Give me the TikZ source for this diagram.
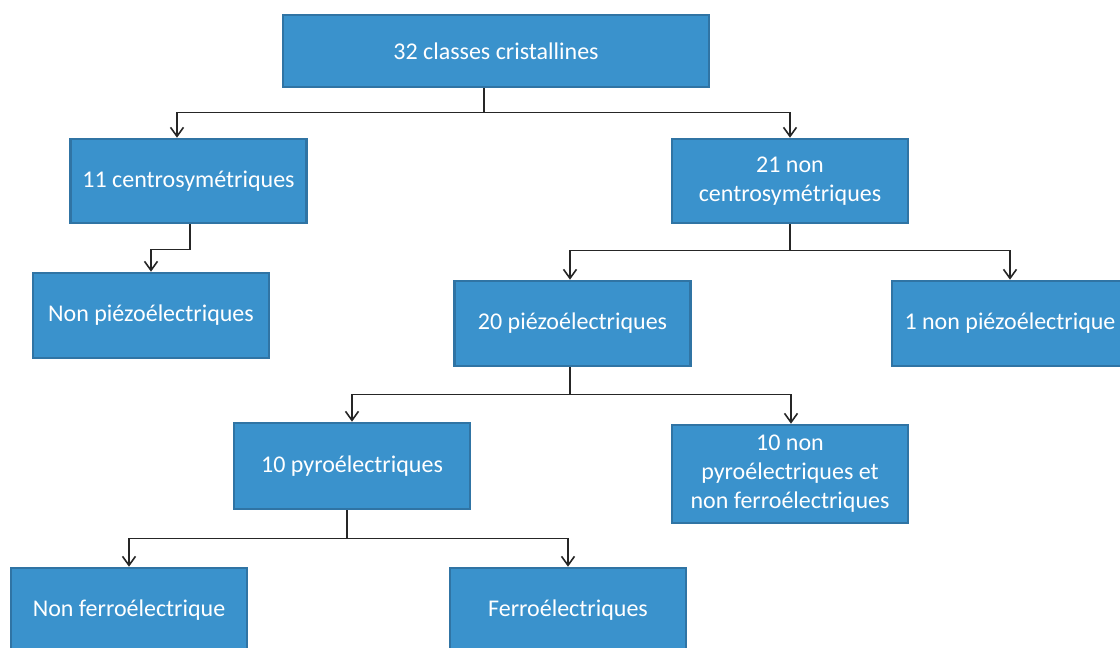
\documentclass[tikz,border=0pt]{standalone}
\usepackage{fontspec}
\setmainfont{Carlito}
\usepackage{xcolor}
\usetikzlibrary{arrows.meta, positioning}

\definecolor{boxblue}{RGB}{58,146,204}
\definecolor{boxedge}{RGB}{48,116,164}

\begin{document}
\begin{tikzpicture}[
  x=1pt, y=-1pt,
  box/.style={rectangle, draw=boxedge, line width=2.6pt,
              fill=boxblue, text=white, minimum width=236pt, minimum height=85pt,
              inner sep=3pt, font=\fontsize{24}{29}\selectfont, align=center},
  arrow/.style={-{Straight Barb[length=9pt, width=13pt, line width=1.6pt]}, line width=1.6pt, draw=black!85},
]
  \useasboundingbox (0,0) rectangle (1120,648);

  \node[box, minimum width=426pt, minimum height=72pt] (top) at (496,51) {32 classes cristallines};
  \node[box, minimum height=84pt] (c11)  at (188.5,181) {11 centrosymétriques};
  \node[box, minimum height=84pt] (nc21) at (790,181)   {21 non\\centrosymétriques};
  \node[box] (npiezo)  at (151,315.5)  {Non piézoélectriques};
  \node[box] (piezo20) at (572.5,323.5) {20 piézoélectriques};
  \node[box] (npiezo1) at (1010,323.5) {1 non piézoélectrique};
  \node[box, minimum height=86pt] (pyro10)  at (352,466) {10 pyroélectriques};
  \node[box, minimum height=98pt] (npyro10) at (790,474) {10 non\\pyroélectriques et\\non ferroélectriques};
  \node[box] (nferro) at (129,610.5) {Non ferroélectrique};
  \node[box] (ferro)  at (568,610.5) {Ferroélectriques};

  \draw[arrow] ([xshift=-12pt]top.south) -- ++(0,24) coordinate (j1) -| ([xshift=-11.5pt]c11.north);
  \draw[arrow] (j1) -| (nc21.north);
  \draw[arrow] ([xshift=1.5pt]c11.south) -- ++(0,25) -| (npiezo.north);
  \draw[arrow] (nc21.south) -- ++(0,26) coordinate (j2) -| ([xshift=-2.5pt]piezo20.north);
  \draw[arrow] (j2) -| (npiezo1.north);
  \draw[arrow] ([xshift=-2.5pt]piezo20.south) -- ++(0,27) coordinate (j3) -| (pyro10.north);
  \draw[arrow] (j3) -| ([xshift=1pt]npyro10.north);
  \draw[arrow] ([xshift=-5pt]pyro10.south) -- ++(0,28) coordinate (j4) -| (nferro.north);
  \draw[arrow] (j4) -| (ferro.north);
\end{tikzpicture}
\end{document}
